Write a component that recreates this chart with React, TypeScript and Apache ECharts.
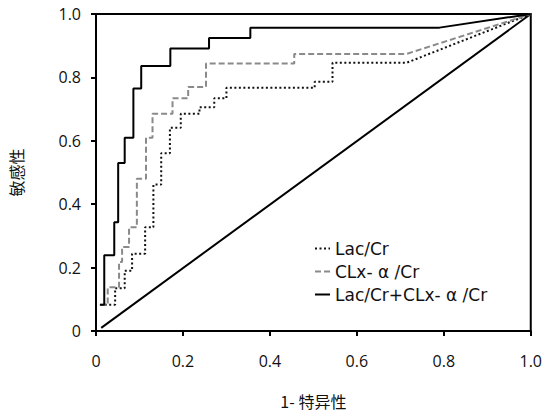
import React, { useEffect, useRef } from "react";
import * as echarts from "echarts";

const seriesNames = ["Lac/Cr", "CLx- α /Cr", "Lac/Cr+CLx- α /Cr"];

const lacFpr = [0.02, 0.044, 0.044, 0.066, 0.066, 0.083, 0.083, 0.113, 0.113, 0.132, 0.132, 0.15, 0.15, 0.17, 0.17, 0.195, 0.195, 0.238, 0.238, 0.272, 0.272, 0.3, 0.3, 0.503, 0.503, 0.544, 0.544, 0.714, 1];
const lacTpr = [0.083, 0.083, 0.135, 0.135, 0.19, 0.19, 0.244, 0.244, 0.327, 0.327, 0.462, 0.462, 0.561, 0.561, 0.641, 0.641, 0.685, 0.685, 0.706, 0.706, 0.734, 0.734, 0.767, 0.767, 0.786, 0.786, 0.846, 0.846, 1];

const clxFpr = [0.009, 0.027, 0.027, 0.053, 0.053, 0.06, 0.06, 0.076, 0.076, 0.094, 0.094, 0.115, 0.115, 0.13, 0.13, 0.176, 0.176, 0.212, 0.212, 0.253, 0.253, 0.456, 0.456, 0.714, 1];
const clxTpr = [0.083, 0.083, 0.138, 0.138, 0.218, 0.218, 0.265, 0.265, 0.327, 0.327, 0.48, 0.48, 0.61, 0.61, 0.685, 0.685, 0.734, 0.734, 0.77, 0.77, 0.844, 0.844, 0.874, 0.874, 1];

const combFpr = [0.009, 0.019, 0.019, 0.042, 0.042, 0.051, 0.051, 0.066, 0.066, 0.086, 0.086, 0.104, 0.104, 0.171, 0.171, 0.26, 0.26, 0.355, 0.355, 0.79, 1];
const combTpr = [0.083, 0.083, 0.239, 0.239, 0.343, 0.343, 0.53, 0.53, 0.61, 0.61, 0.765, 0.765, 0.836, 0.836, 0.891, 0.891, 0.924, 0.924, 0.957, 0.957, 1];

const refFpr = [0.012, 1];
const refTpr = [0.01, 1];

const xTicks = [0, 0.2, 0.4, 0.6, 0.8, 1.0];

const zip = (a: number[], b: number[]) => a.map((v, i) => [v, b[i]]);

const FONT = "'Open Sans', 'DejaVu Sans', sans-serif";
const LEGEND_FONT = "'DejaVu Sans', sans-serif";

export default function App() {
  const ref = useRef<HTMLDivElement>(null);
  useEffect(() => {
    if (!ref.current) return;
    const chart = echarts.init(ref.current, undefined, { renderer: "svg" });
    const fmt = (v: number) => (v === 0 ? "0" : v.toFixed(1));
    chart.setOption({
      animation: false,
      backgroundColor: "#fff",
      grid: {
        left: 95,
        right: 9,
        top: 14,
        bottom: 79,
        show: true,
        borderColor: "#000",
        borderWidth: 2,
        backgroundColor: "transparent",
      },
      legend: {
        data: seriesNames,
        orient: "vertical",
        left: 309,
        top: 235,
        itemWidth: 15,
        itemHeight: 12,
        itemGap: 6,
        itemStyle: { color: "transparent", borderWidth: 0, opacity: 0 },
        textStyle: { fontFamily: LEGEND_FONT, fontSize: 17, color: "#111", padding: [0, 0, 0, 0] },
      },
      xAxis: {
        type: "value",
        min: 0,
        max: 1,
        interval: 0.2,
        name: "1- 特异性",
        nameLocation: "middle",
        nameGap: 62,
        nameTextStyle: { fontFamily: "'Noto Sans CJK SC', sans-serif", fontSize: 16, color: "#111" },
        axisLine: { show: true, lineStyle: { color: "#000", width: 2 } },
        axisTick: { show: true, length: 5, lineStyle: { color: "#000", width: 2 } },
        axisLabel: { fontFamily: FONT, fontSize: 16, fontWeight: 500, color: "#111", margin: 22, formatter: fmt, customValues: xTicks },
        splitLine: { show: false },
      },
      yAxis: {
        type: "value",
        min: 0,
        max: 1,
        interval: 0.2,
        name: "敏感性",
        nameLocation: "middle",
        nameGap: 72,
        nameRotate: 90,
        nameTextStyle: { fontFamily: "'Noto Sans CJK SC', sans-serif", fontSize: 16, color: "#111" },
        axisLine: { show: true, lineStyle: { color: "#000", width: 2 } },
        axisTick: { show: true, length: 5, lineStyle: { color: "#000", width: 2 } },
        axisLabel: { fontFamily: FONT, fontSize: 16, fontWeight: 500, color: "#111", margin: 15, formatter: fmt },
        splitLine: { show: false },
      },
      series: [
        {
          name: seriesNames[0],
          type: "line",
          data: zip(lacFpr, lacTpr),
          symbol: "none",
          color: "#111",
          lineStyle: { color: "#111", width: 2, type: [2, 2.5] },
          z: 3,
        },
        {
          name: seriesNames[1],
          type: "line",
          data: zip(clxFpr, clxTpr),
          symbol: "none",
          color: "#8a8a8a",
          lineStyle: { color: "#8a8a8a", width: 2, type: [6, 3] },
          z: 3,
        },
        {
          name: seriesNames[2],
          type: "line",
          data: zip(combFpr, combTpr),
          symbol: "none",
          color: "#000",
          lineStyle: { color: "#000", width: 2 },
          z: 4,
        },
        {
          name: "ref",
          type: "line",
          data: zip(refFpr, refTpr),
          symbol: "none",
          color: "#000",
          lineStyle: { color: "#000", width: 2 },
          z: 2,
        },
      ],
    });
    return () => chart.dispose();
  }, []);
  return <div ref={ref} style={{ width: 545, height: 414, position: "absolute", left: 0, top: 0 }} />;
}
